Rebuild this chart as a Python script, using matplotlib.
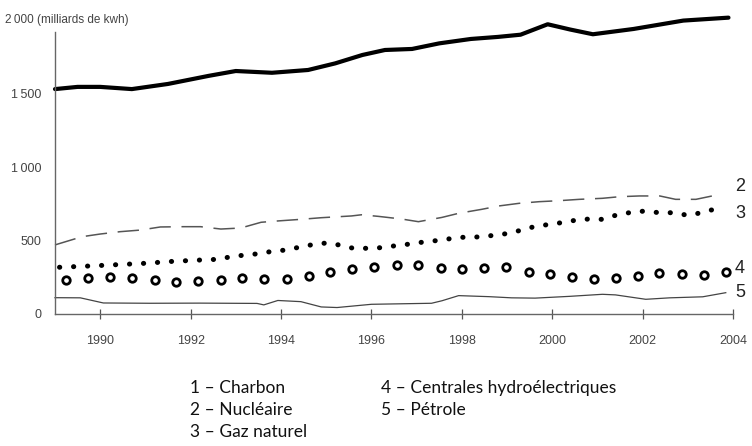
import matplotlib
matplotlib.use("Agg")
import matplotlib.pyplot as plt

# 1 - Charbon
coal_years = [1989.0, 1989.5, 1990.0, 1990.7, 1991.5, 1992.4, 1993.0, 1993.8, 1994.6,
              1995.2, 1995.8, 1996.3, 1996.9, 1997.5, 1998.2, 1998.8, 1999.3, 1999.9,
              2000.4, 2000.9, 2001.8, 2002.9, 2003.9]
coal = [1530, 1545, 1545, 1530, 1565, 1620, 1653, 1641, 1660,
        1705, 1762, 1796, 1803, 1841, 1871, 1885, 1900, 1971,
        1935, 1903, 1939, 1996, 2016]

# 2 - Nucleaire
nuc_years = [1989.0, 1989.6, 1990.0, 1990.44, 1990.89, 1991.33, 1991.84, 1992.22, 1992.67,
             1993.11, 1993.56, 1993.93, 1994.44, 1994.89, 1995.56, 1995.78, 1996.16, 1996.67,
             1997.04, 1997.56, 1997.93, 1998.44, 1998.82, 1999.27, 1999.71, 2000.16, 2000.6,
             2001.11, 2001.49, 2001.93, 2002.38, 2002.73, 2003.18, 2003.71]
nuclear = [470, 526, 544, 560, 571, 592, 594, 594, 578,
           585, 624, 633, 644, 655, 667, 675, 664, 646,
           628, 657, 685, 712, 735, 753, 764, 771, 780,
           787, 798, 803, 803, 780, 780, 814]

# 3 - Gaz naturel
gas_years = [1989.1, 1989.8, 1990.4, 1991.0, 1991.6, 1992.2, 1992.6, 1992.9, 1993.2, 1993.5,
             1993.8, 1994.1, 1994.4, 1994.7, 1995.0, 1995.3, 1995.6, 1995.9, 1996.2, 1996.5,
             1996.9, 1997.2, 1997.5, 1997.8, 1998.1, 1998.4, 1998.7, 1999.0, 1999.3, 1999.6,
             1999.9, 2000.2, 2000.5, 2000.8, 2001.1, 2001.4, 2001.7, 2002.0, 2002.4, 2002.7,
             2003.0, 2003.3, 2003.6]
gas = [318, 327, 336, 345, 358, 367, 372, 390, 401, 410,
       426, 435, 454, 472, 483, 469, 447, 447, 451, 463,
       478, 492, 501, 515, 524, 524, 535, 547, 569, 594,
       608, 621, 637, 646, 644, 671, 689, 699, 689, 689,
       671, 689, 714]

# 4 - Centrales hydroelectriques
hydro_years = [1989.24, 1989.74, 1990.21, 1990.70, 1991.21, 1991.68, 1992.17, 1992.67,
               1993.14, 1993.63, 1994.13, 1994.62, 1995.08, 1995.58, 1996.06, 1996.56,
               1997.04, 1997.53, 1998.0, 1998.5, 1998.98, 1999.48, 1999.96, 2000.43,
               2000.93, 2001.41, 2001.89, 2002.37, 2002.87, 2003.36, 2003.84]
hydro = [231, 243, 254, 243, 229, 220, 227, 229,
         245, 240, 238, 259, 288, 306, 322, 335,
         335, 313, 304, 313, 320, 288, 270, 250,
         236, 243, 259, 277, 272, 268, 284]

# 5 - Petrole
oil_years = [1989.0, 1989.56, 1990.07, 1991.1, 1992.2, 1993.47, 1993.62, 1993.93, 1994.44,
             1994.89, 1995.24, 1996.0, 1997.33, 1997.56, 1997.93, 1998.6, 1999.1, 1999.62,
             2000.38, 2001.11, 2001.4, 2002.07, 2002.6, 2003.33, 2003.84]
oil = [111, 110, 75, 73, 74, 72, 62, 92, 84,
       48, 44, 66, 73, 90, 125, 118, 110, 108,
       120, 134, 130, 100, 110, 117, 145]

x_ticks = [1990, 1992, 1994, 1996, 1998, 2000, 2002, 2004]
y_ticks = [0, 500, 1000, 1500]
y_tick_labels = ['0', '500', '1\u2009000', '1\u2009500']
legend_left = ['1 – Charbon', '2 – Nucléaire', '3 – Gaz naturel']
legend_right = ['4 – Centrales hydroélectriques', '5 – Pétrole']

plt.rcParams['font.family'] = ['Liberation Sans', 'DejaVu Sans']

W, H = 752, 446
fig = plt.figure(figsize=(W / 100, H / 100), dpi=100)
ax = fig.add_axes([55 / W, 1 - 314 / H, 678 / W, 294 / H])
ax.set_xlim(1989, 2004)
ax.set_ylim(0, 2000)

ax.plot(coal_years, coal, color='black', lw=3.0, solid_capstyle='round',
        solid_joinstyle='round', clip_on=False)
ax.plot(nuc_years, nuclear, color='#555555', lw=1.1, dashes=(14, 7), clip_on=False)
ax.plot(gas_years, gas, color='black', lw=3.6, dashes=(0.05, 2.75),
        dash_capstyle='round', clip_on=False)
ax.plot(hydro_years, hydro, ls='none', marker='o', ms=5.4, mew=2.0,
        mfc='white', mec='black', clip_on=False)
ax.plot(oil_years, oil, color='#444444', lw=0.9, clip_on=False)

# series numbers at line ends (small vertical nudges so 2 and 3 do not collide)
ends = [(coal_years, coal, '1', 0), (nuc_years, nuclear, '2', 6), (gas_years, gas, '3', -3),
        (hydro_years, hydro, '4', 3), (oil_years, oil, '5', 0)]
for xs, ys, lab, dy in ends:
    ax.annotate(lab, (xs[-1], ys[-1]), xytext=(735 / W, dy),
                textcoords=('figure fraction', 'offset points'),
                va='center', ha='left', fontsize=13, color='#222222')

for s in ['top', 'right']:
    ax.spines[s].set_visible(False)
ax.spines['left'].set_bounds(0, 1920)
for s in ['left', 'bottom']:
    ax.spines[s].set_color('#666666')
    ax.spines[s].set_linewidth(1.0)

ax.set_xticks(x_ticks)
ax.set_xticklabels([str(y) for y in x_ticks])
ax.set_yticks(y_ticks)
ax.set_yticklabels(y_tick_labels)
ax.tick_params(axis='x', direction='inout', length=7, width=0.9, color='#555555',
               labelsize=9, labelcolor='#444444', pad=11.5)
ax.tick_params(axis='y', length=0, labelsize=9, labelcolor='#444444', pad=10)

fig.text(5 / W, 1 - 20 / H, '2\u2009000 (milliards de kwh)', fontsize=8.5,
         color='#444444', va='center', ha='left')

for i, t in enumerate(legend_left):
    fig.text(190 / W, 1 - (388 + 22 * i) / H, t, fontsize=12.5, family='Lato',
             va='center', ha='left', color='#111111')
for i, t in enumerate(legend_right):
    fig.text(381 / W, 1 - (388 + 22 * i) / H, t, fontsize=12.5, family='Lato',
             va='center', ha='left', color='#111111')

fig.savefig('out.png', dpi=100)
